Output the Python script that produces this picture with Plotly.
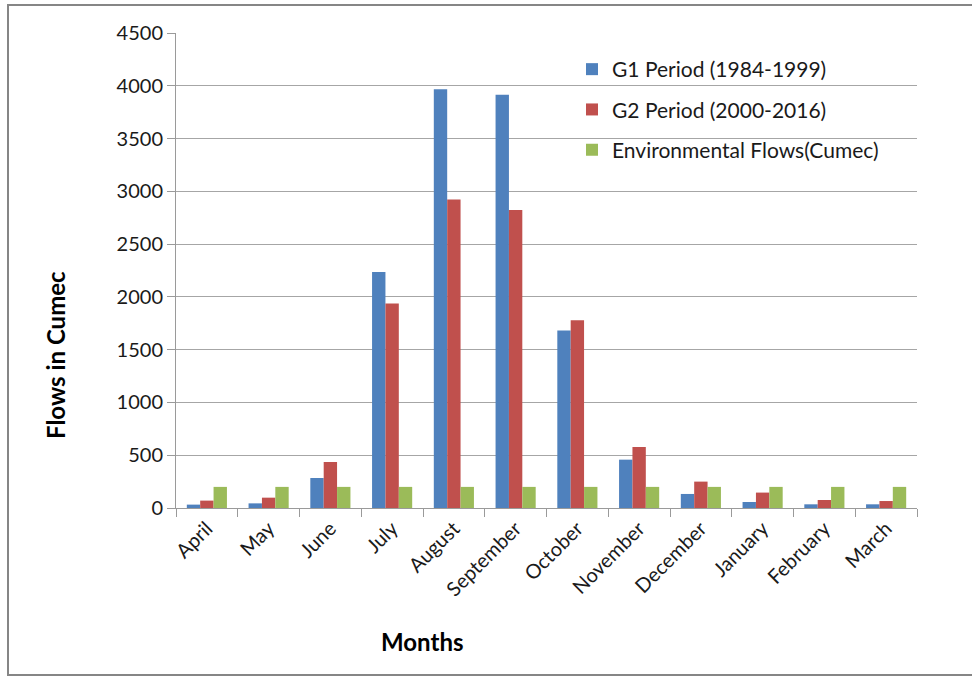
import plotly.graph_objects as go

months = ["April", "May", "June", "July", "August", "September", "October",
          "November", "December", "January", "February", "March"]
g1_period = [32, 44, 284, 2235, 3968, 3916, 1682, 458, 133, 57, 35, 35]
g2_period = [70, 98, 436, 1938, 2922, 2824, 1778, 578, 250, 146, 76, 66]
env_flows = [200, 200, 200, 200, 200, 200, 200, 200, 200, 200, 200, 200]

series_names = ["G1 Period (1984-1999)", "G2 Period (2000-2016)", "Environmental Flows(Cumec)"]
series_colors = ["#4F81BD", "#C0504D", "#9BBB59"]

W, H = 972, 676
ML, MR, MT, MB = 176, 55, 33, 168
PW, PH = W - ML - MR, H - MT - MB

FONT = "Lato, Calibri, Arial, sans-serif"
TXT = "#1a1a1a"

fig = go.Figure()
for name, vals, col in zip(series_names, [g1_period, g2_period, env_flows], series_colors):
    fig.add_trace(go.Bar(
        x=months, y=vals, name=name, legendgroup=name,
        marker=dict(color=col, line=dict(width=0)),
    ))


def px_x(p):
    return (p - ML) / PW


def px_y(p):
    return (H - MB - p) / PH


fig.update_layout(
    width=W, height=H,
    margin=dict(l=ML, r=MR, t=MT, b=MB),
    paper_bgcolor="white", plot_bgcolor="white",
    barmode="group", bargap=0.35, bargroupgap=0,
    font=dict(family=FONT, size=20, color=TXT),
    showlegend=True,
    legend=dict(
        x=px_x(572), y=px_y(49), xanchor="left", yanchor="top",
        font=dict(family=FONT, size=21, color=TXT),
        tracegroupgap=10, bgcolor="rgba(0,0,0,0)",
        itemwidth=30,
    ),
    xaxis=dict(
        type="category", tickangle=-45,
        showline=True, linecolor="#9a9a9a", linewidth=1,
        ticks="outside", tickson="boundaries", ticklen=8, tickcolor="#9a9a9a",
        showgrid=False, tickfont=dict(family=FONT, size=20, color=TXT),
    ),
    yaxis=dict(
        range=[0, 4500], dtick=500, tick0=0,
        showline=True, linecolor="#9a9a9a", linewidth=1,
        ticks="outside", ticklen=8, tickcolor="#9a9a9a",
        showgrid=True, gridcolor="#a6a6a6", gridwidth=1,
        zeroline=False,
        tickfont=dict(family=FONT, size=20, color=TXT),
    ),
    shapes=[dict(
        type="rect", xref="paper", yref="paper",
        x0=px_x(8), x1=px_x(978), y0=px_y(675), y1=px_y(5),
        line=dict(color="#868686", width=2), fillcolor="rgba(0,0,0,0)",
        layer="below",
    )],
    annotations=[
        dict(text="<b>Flows in Cumec</b>", xref="paper", yref="paper",
             x=px_x(55), y=px_y(355), textangle=-90, showarrow=False,
             font=dict(family=FONT, size=24, color="black"),
             xanchor="center", yanchor="middle"),
        dict(text="<b>Months</b>", xref="paper", yref="paper",
             x=px_x(422), y=px_y(641), showarrow=False,
             font=dict(family=FONT, size=24, color="black"),
             xanchor="center", yanchor="middle"),
    ],
)

fig.write_html("out.html")
